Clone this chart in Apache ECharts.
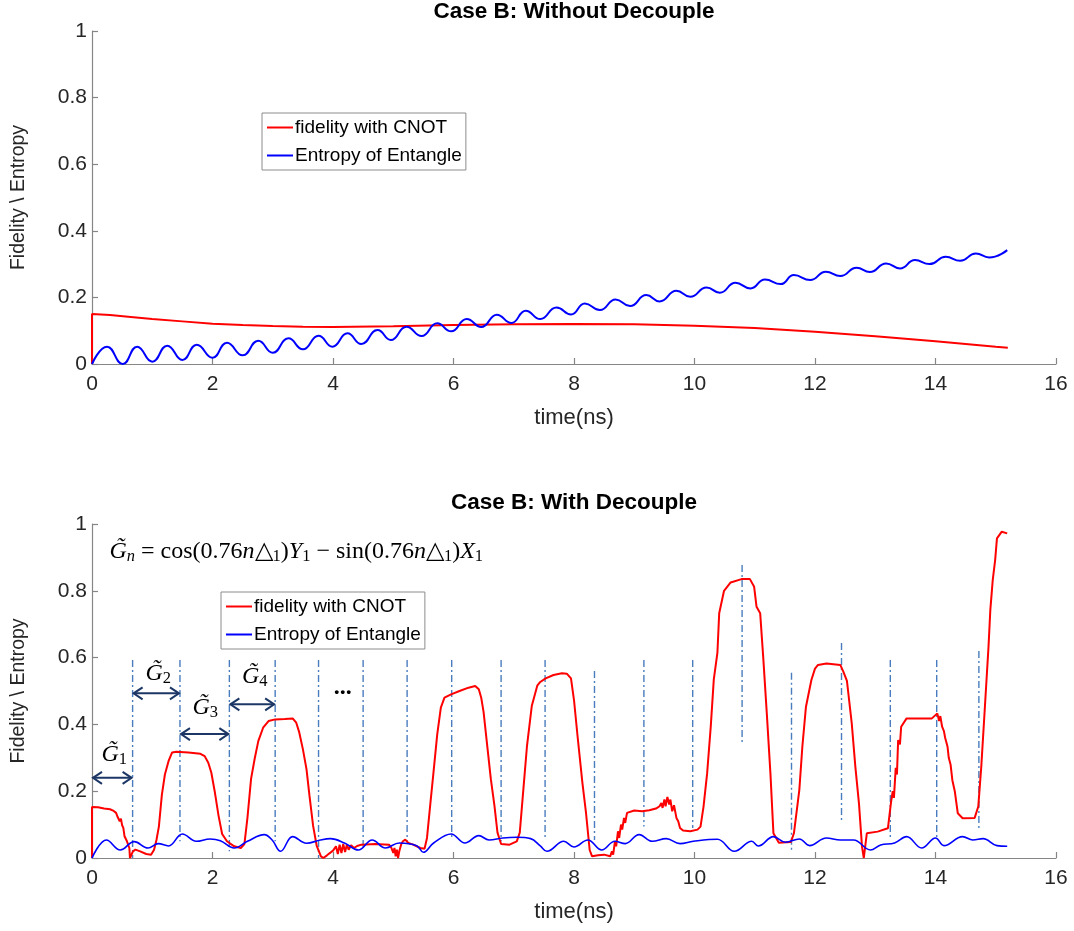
<!DOCTYPE html>
<html>
<head>
<meta charset="utf-8">
<script src="https://cdn.jsdelivr.net/npm/echarts@6/dist/echarts.min.js"></script>
<style>html,body{margin:0;padding:0;background:#fff}#c{width:1074px;height:931px}</style>
</head>
<body>
<div id="c"></div>
<script>
// ---------- data ----------
const titles = ['Case B: Without Decouple', 'Case B: With Decouple'];
const seriesNames = ['fidelity with CNOT', 'Entropy of Entangle'];
const xAxisName = 'time(ns)';
const yAxisName = 'Fidelity \\ Entropy';

const topFidelity = [[0,0],[0,0.15],[0.3,0.147],[0.6,0.142],[1.0,0.135],[1.5,0.128],[2.0,0.121],[2.5,0.117],[3.0,0.114],[3.5,0.112],[4.0,0.111],[5.0,0.113],[6.0,0.117],[7.0,0.119],[8.0,0.12],[9.0,0.119],[10.0,0.115],[11.0,0.108],[12.0,0.097],[13.0,0.083],[14.0,0.068],[15.0,0.052],[15.2,0.049]];

const topEntropy = [[0,0],[0.25,0.052],[0.51,0.0],[0.75,0.052],[1.0,0.007],[1.25,0.055],[1.5,0.012],[1.74,0.058],[2.0,0.019],[2.24,0.064],[2.5,0.026],[2.76,0.07],[3.0,0.034],[3.26,0.077],[3.5,0.044],[3.76,0.085],[3.99,0.052],[4.24,0.092],[4.47,0.06],[4.74,0.102],[4.96,0.072],[5.22,0.112],[5.47,0.084],[5.73,0.122],[5.96,0.098],[6.22,0.135],[6.46,0.111],[6.72,0.148],[6.96,0.123],[7.2,0.16],[7.44,0.135],[7.71,0.17],[7.95,0.149],[8.18,0.182],[8.43,0.162],[8.69,0.194],[8.93,0.174],[9.2,0.207],[9.42,0.188],[9.7,0.22],[9.93,0.202],[10.2,0.23],[10.42,0.214],[10.68,0.244],[10.93,0.227],[11.17,0.254],[11.43,0.24],[11.65,0.267],[11.92,0.252],[12.18,0.277],[12.42,0.264],[12.69,0.289],[12.91,0.276],[13.18,0.302],[13.41,0.287],[13.66,0.312],[13.9,0.3],[14.17,0.322],[14.41,0.31],[14.67,0.332],[14.89,0.32],[15.19,0.342]];

const botFidelity = [[0,0],[0,0.153],[0.1,0.152],[0.2,0.148],[0.3,0.146],[0.35,0.142],[0.4,0.135],[0.42,0.125],[0.44,0.13],[0.46,0.11],[0.48,0.118],[0.5,0.098],[0.52,0.09],[0.54,0.065],[0.56,0.07],[0.58,0.05],[0.6,0.055],[0.62,0.03],[0.63,0.0],[0.66,0.0],[0.68,0.02],[0.72,0.025],[0.8,0.02],[0.9,0.012],[0.98,0.01],[1.03,0.025],[1.07,0.054],[1.11,0.094],[1.16,0.19],[1.21,0.25],[1.27,0.29],[1.33,0.316],[1.4,0.318],[1.6,0.316],[1.8,0.312],[1.87,0.305],[1.93,0.285],[1.98,0.256],[2.04,0.196],[2.1,0.127],[2.16,0.072],[2.24,0.05],[2.36,0.035],[2.47,0.03],[2.53,0.042],[2.58,0.12],[2.64,0.237],[2.7,0.297],[2.76,0.35],[2.84,0.39],[2.93,0.41],[3.04,0.415],[3.2,0.416],[3.33,0.418],[3.39,0.405],[3.44,0.376],[3.5,0.326],[3.56,0.266],[3.61,0.186],[3.67,0.096],[3.73,0.036],[3.8,0.005],[3.84,0.0],[3.9,0.008],[4.0,0.022],[4.05,0.035],[4.08,0.012],[4.11,0.04],[4.14,0.015],[4.17,0.042],[4.2,0.018],[4.23,0.04],[4.26,0.025],[4.3,0.038],[4.35,0.03],[4.4,0.036],[4.47,0.04],[4.7,0.042],[4.93,0.04],[4.97,0.03],[5.0,0.015],[5.02,0.03],[5.04,0.005],[5.06,0.025],[5.08,0.0],[5.1,0.02],[5.13,0.04],[5.16,0.05],[5.2,0.055],[5.25,0.045],[5.33,0.04],[5.45,0.03],[5.52,0.028],[5.56,0.06],[5.62,0.17],[5.67,0.26],[5.73,0.37],[5.79,0.45],[5.85,0.48],[5.96,0.49],[6.1,0.5],[6.25,0.51],[6.36,0.515],[6.42,0.505],[6.46,0.48],[6.5,0.436],[6.56,0.336],[6.62,0.236],[6.68,0.156],[6.73,0.076],[6.79,0.042],[6.93,0.04],[7.05,0.05],[7.1,0.076],[7.16,0.206],[7.22,0.336],[7.3,0.456],[7.39,0.516],[7.44,0.527],[7.53,0.538],[7.66,0.548],[7.8,0.553],[7.88,0.552],[7.95,0.538],[8.0,0.473],[8.06,0.363],[8.14,0.224],[8.2,0.134],[8.26,0.024],[8.3,0.005],[8.4,0.008],[8.5,0.01],[8.6,0.005],[8.63,0.02],[8.65,0.01],[8.68,0.05],[8.7,0.035],[8.73,0.08],[8.75,0.06],[8.78,0.1],[8.8,0.085],[8.83,0.12],[8.85,0.105],[8.88,0.135],[8.91,0.14],[9.0,0.142],[9.13,0.14],[9.25,0.143],[9.36,0.148],[9.42,0.155],[9.45,0.165],[9.47,0.15],[9.5,0.175],[9.52,0.155],[9.55,0.183],[9.58,0.16],[9.6,0.175],[9.63,0.14],[9.66,0.158],[9.7,0.12],[9.73,0.11],[9.76,0.09],[9.81,0.082],[9.93,0.08],[10.05,0.085],[10.1,0.094],[10.15,0.154],[10.21,0.254],[10.27,0.394],[10.32,0.534],[10.38,0.614],[10.41,0.733],[10.49,0.8],[10.6,0.825],[10.78,0.835],[10.92,0.835],[10.99,0.812],[11.03,0.752],[11.09,0.733],[11.14,0.603],[11.2,0.433],[11.26,0.254],[11.31,0.074],[11.4,0.046],[11.6,0.048],[11.65,0.074],[11.74,0.204],[11.79,0.333],[11.85,0.453],[11.94,0.533],[12.0,0.567],[12.05,0.578],[12.19,0.582],[12.42,0.578],[12.47,0.558],[12.53,0.53],[12.61,0.403],[12.67,0.273],[12.73,0.163],[12.78,0.034],[12.81,0.0],[12.86,0.074],[13.04,0.079],[13.21,0.089],[13.26,0.164],[13.29,0.2],[13.31,0.18],[13.34,0.27],[13.36,0.25],[13.38,0.353],[13.41,0.34],[13.43,0.393],[13.52,0.418],[13.94,0.418],[14.03,0.433],[14.06,0.41],[14.08,0.425],[14.11,0.393],[14.14,0.38],[14.16,0.36],[14.2,0.333],[14.22,0.3],[14.25,0.28],[14.28,0.233],[14.32,0.2],[14.37,0.134],[14.45,0.119],[14.65,0.12],[14.71,0.154],[14.76,0.274],[14.82,0.453],[14.88,0.633],[14.91,0.743],[14.95,0.832],[14.99,0.892],[15.02,0.957],[15.1,0.977],[15.19,0.972]];

const botEntropy = [[0,0],[0.24,0.054],[0.47,0.024],[0.7,0.049],[0.93,0.03],[1.1,0.043],[1.27,0.036],[1.5,0.072],[1.73,0.05],[1.96,0.057],[2.13,0.052],[2.36,0.03],[2.58,0.05],[2.86,0.07],[2.99,0.054],[3.13,0.02],[3.33,0.064],[3.56,0.044],[3.79,0.054],[3.96,0.058],[4.19,0.045],[4.42,0.024],[4.65,0.054],[4.87,0.03],[5.1,0.045],[5.39,0.037],[5.5,0.017],[5.67,0.045],[5.96,0.072],[6.19,0.045],[6.42,0.067],[6.59,0.054],[6.82,0.06],[7.05,0.062],[7.28,0.058],[7.44,0.036],[7.55,0.02],[7.83,0.05],[8.0,0.033],[8.23,0.054],[8.46,0.024],[8.68,0.05],[8.85,0.043],[9.08,0.07],[9.3,0.05],[9.53,0.058],[9.76,0.043],[9.98,0.05],[10.38,0.056],[10.66,0.02],[10.95,0.05],[11.06,0.036],[11.31,0.064],[11.51,0.047],[11.74,0.057],[11.91,0.037],[12.19,0.06],[12.42,0.054],[12.64,0.054],[12.92,0.024],[13.09,0.039],[13.32,0.045],[13.52,0.064],[13.77,0.03],[14.0,0.06],[14.14,0.037],[14.45,0.064],[14.62,0.054],[14.79,0.058],[15.02,0.037],[15.19,0.035]];

// gate boundaries: [time, top value, bottom value]
const gateLines = [[0.674,0.593,0.0],[1.46,0.593,0.05],[2.28,0.593,0.02],[3.04,0.593,0.05],[3.76,0.593,0.0],[4.50,0.593,0.03],[5.23,0.593,0.05],[5.97,0.593,0.06],[6.79,0.593,0.05],[7.52,0.593,0.054],[8.34,0.56,0.054],[9.16,0.593,0.094],[9.97,0.593,0.09],[10.79,0.877,0.344],[11.61,0.555,0.024],[12.44,0.644,0.109],[13.25,0.593,0.054],[14.02,0.593,0.06],[14.72,0.62,0.09]];
// gate arrows: [start, end, value]
const gateArrows = [[0,0.674,0.24],[0.674,1.46,0.493],[1.46,2.28,0.371],[2.28,3.04,0.46]];
// gate labels: [time, value, index]
const gateLabels = [[0.37,0.31,1],[1.10,0.553,2],[1.88,0.449,3],[2.70,0.543,4]];
const ellipsisPos = [[4.16,0.51]];
const formulaPos = [[0.29,0.917]];

// ---------- layout ----------
const FONT = 'Liberation Sans, Arial, Helvetica, sans-serif';
const SERIF = 'Liberation Serif, Times New Roman, serif';
const grids = [
  {left: 92, top: 31, width: 964, height: 333},
  {left: 92, top: 524, width: 964, height: 334}
];
const axisGray = '#868686';
const RED = '#ff0000', BLUE = '#0000ff', GATE = '#4a7dbf', NAVY = '#1c3766';

function xAxis(i) {
  return {
    type: 'value', gridIndex: i, min: 0, max: 16, interval: 2,
    name: xAxisName, nameLocation: 'middle', nameGap: 43,
    nameTextStyle: {fontFamily: FONT, fontSize: 22, color: '#262626'},
    axisLine: {show: true, onZero: false, lineStyle: {color: axisGray, width: 1.2}},
    axisTick: {show: true, inside: true, length: 6, lineStyle: {color: axisGray, width: 1.2}},
    axisLabel: {fontFamily: FONT, fontSize: 21, color: '#262626', margin: 10},
    splitLine: {show: false}
  };
}
function yAxis(i) {
  return {
    type: 'value', gridIndex: i, min: 0, max: 1, interval: 0.2,
    name: yAxisName, nameLocation: 'middle', nameGap: 63, nameRotate: 90,
    nameTextStyle: {fontFamily: FONT, fontSize: 19.5, color: '#262626'},
    axisLine: {show: true, onZero: false, lineStyle: {color: axisGray, width: 1.2}},
    axisTick: {show: true, inside: true, length: 6, lineStyle: {color: axisGray, width: 1.2}},
    axisLabel: {fontFamily: FONT, fontSize: 21, color: '#262626', margin: 5},
    splitLine: {show: false}
  };
}
function legend(left, top) {
  return {
    data: seriesNames, orient: 'vertical', left: left, top: top,
    icon: 'rect', itemWidth: 26, itemHeight: 2, itemGap: 9,
    padding: [5, 4, 5, 5],
    backgroundColor: '#fff', borderColor: '#8c8c8c', borderWidth: 1, borderRadius: 0,
    textStyle: {fontFamily: FONT, fontSize: 19, color: '#000', padding: [0,0,0,-3]},
    selectedMode: false
  };
}

const subRich = {
  i: {fontFamily: SERIF, fontStyle: 'italic', fontSize: 24, color: '#000'},
  r: {fontFamily: SERIF, fontSize: 24, color: '#000'},
  s: {fontFamily: SERIF, fontSize: 16.5, color: '#000', padding: [10, 0, 0, 0]},
  si: {fontFamily: SERIF, fontStyle: 'italic', fontSize: 16.5, color: '#000', padding: [10, 0, 0, 0]}
};

const chart = echarts.init(document.getElementById('c'), null, {renderer: 'canvas'});
const option = {
  backgroundColor: '#fff',
  animation: false,
  grid: grids,
  xAxis: [xAxis(0), xAxis(1)],
  yAxis: [yAxis(0), yAxis(1)],
  legend: [legend(262, 113), legend(221, 592)],
  graphic: titles.map((t, i) => ({
    type: 'text',
    x: grids[i].left + grids[i].width / 2,
    y: i === 0 ? 0 : 491,
    style: {text: t, fontFamily: FONT, fontWeight: 'bold', fontSize: 22.5, fill: '#000', align: 'center', verticalAlign: 'top'}
  })),
  series: [
    {name: seriesNames[0], type: 'line', xAxisIndex: 0, yAxisIndex: 0, data: topFidelity, showSymbol: false, symbol: 'none', lineStyle: {color: RED, width: 2}, itemStyle: {color: RED}, z: 3},
    {name: seriesNames[1], type: 'line', xAxisIndex: 0, yAxisIndex: 0, data: topEntropy, showSymbol: false, symbol: 'none', smooth: 0.5, lineStyle: {color: BLUE, width: 2}, itemStyle: {color: BLUE}, z: 4},
    {name: 'gates', type: 'custom', xAxisIndex: 1, yAxisIndex: 1, data: gateLines, silent: true, z: 2,
      renderItem: function (params, api) {
        const p1 = api.coord([api.value(0), api.value(1)]);
        const p2 = api.coord([api.value(0), api.value(2)]);
        return {type: 'line', shape: {x1: p1[0], y1: p1[1], x2: p2[0], y2: p2[1]},
          style: {stroke: GATE, lineWidth: 1.4, lineDash: [7, 3, 2, 3]}};
      }},
    {name: seriesNames[0], type: 'line', xAxisIndex: 1, yAxisIndex: 1, data: botFidelity, showSymbol: false, symbol: 'none', lineStyle: {color: RED, width: 2}, itemStyle: {color: RED}, z: 3},
    {name: seriesNames[1], type: 'line', xAxisIndex: 1, yAxisIndex: 1, data: botEntropy, showSymbol: false, symbol: 'none', smooth: 0.4, lineStyle: {color: BLUE, width: 1.6}, itemStyle: {color: BLUE}, z: 4},
    {name: 'arrows', type: 'custom', xAxisIndex: 1, yAxisIndex: 1, data: gateArrows, silent: true, z: 5,
      renderItem: function (params, api) {
        const a = api.coord([api.value(0), api.value(2)]);
        const b = api.coord([api.value(1), api.value(2)]);
        const L = 10, H = 6;
        const st = {stroke: NAVY, lineWidth: 2, fill: null};
        return {type: 'group', children: [
          {type: 'line', shape: {x1: a[0] + 1, y1: a[1], x2: b[0] - 1, y2: b[1]}, style: st},
          {type: 'polyline', shape: {points: [[a[0] + L, a[1] - H], [a[0] + 1, a[1]], [a[0] + L, a[1] + H]]}, style: st},
          {type: 'polyline', shape: {points: [[b[0] - L, b[1] - H], [b[0] - 1, b[1]], [b[0] - L, b[1] + H]]}, style: st}
        ]};
      }},
    {name: 'labels', type: 'custom', xAxisIndex: 1, yAxisIndex: 1, data: gateLabels, silent: true, z: 5,
      renderItem: function (params, api) {
        const p = api.coord([api.value(0), api.value(1)]);
        return {type: 'text', x: p[0], y: p[1],
          style: {text: '{i|G\u0303}{s|' + api.value(2) + '}', rich: subRich, align: 'center', verticalAlign: 'middle'}};
      }},
    {name: 'ellipsis', type: 'custom', xAxisIndex: 1, yAxisIndex: 1, data: ellipsisPos, silent: true, z: 5,
      renderItem: function (params, api) {
        const p = api.coord([api.value(0), api.value(1)]);
        return {type: 'text', x: p[0], y: p[1],
          style: {text: '...', fontFamily: SERIF, fontWeight: 'bold', fontSize: 24, fill: '#000', align: 'center', verticalAlign: 'middle'}};
      }},
    {name: 'formula', type: 'custom', xAxisIndex: 1, yAxisIndex: 1, data: formulaPos, silent: true, z: 5,
      renderItem: function (params, api) {
        const p = api.coord([api.value(0), api.value(1)]);
        const txt = '{i|G\u0303}{si|n}{r| = cos(0.76}{i|n}{r|\u25B3}{s|1}{r|)}{i|Y}{s|1}{r| \u2212 sin(0.76}{i|n}{r|\u25B3}{s|1}{r|)}{i|X}{s|1}';
        return {type: 'text', x: p[0], y: p[1],
          style: {text: txt, rich: subRich, align: 'left', verticalAlign: 'middle'}};
      }}
  ]
};
chart.setOption(option);
</script>
</body>
</html>
